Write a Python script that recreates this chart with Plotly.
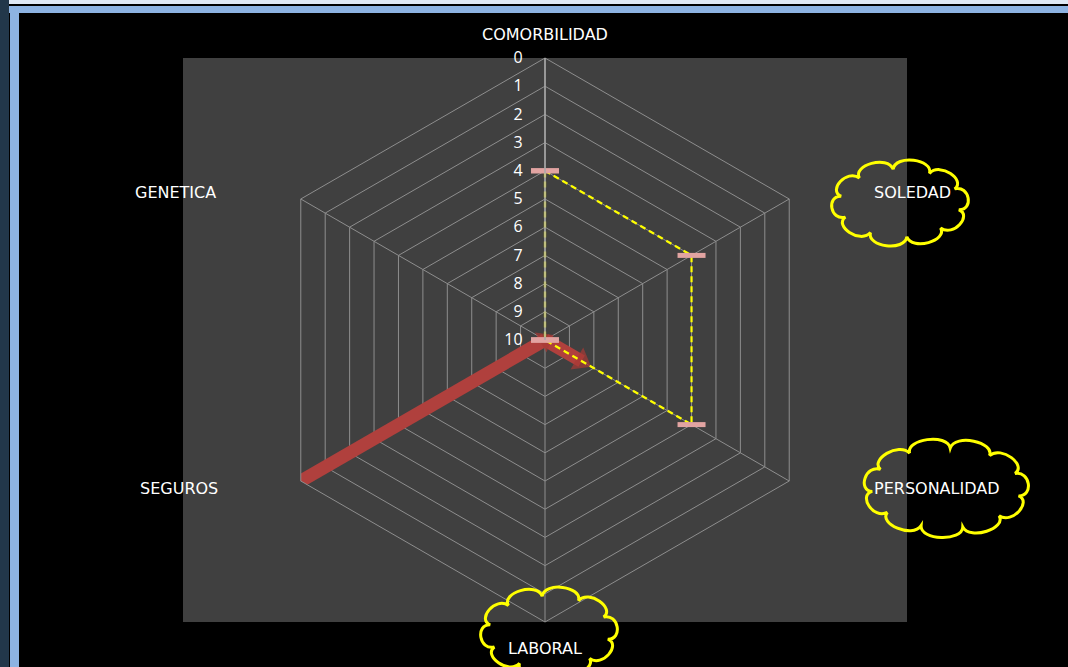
import math
import plotly.graph_objects as go

# Radar categories, clockwise from the top
categories = ["COMORBILIDAD", "SOLEDAD", "PERSONALIDAD", "LABORAL", "SEGUROS", "GENETICA"]

# Series values (radial axis runs 10 at the centre to 0 at the rim)
serie_amarilla = [4, 4, 4, 10, 10, 10]
serie_roja = [10, 10, 8.5, None, -1.7, 10]

radial_ticks = list(range(0, 11))

W, H = 1068, 667


def px(x):
    return x / W


def py(y):
    return 1 - y / H


def cloud_path(cx, cy, rx, ry, n, h, phase=0.0):
    """Scalloped ellipse outline in paper coordinates (pixel inputs)."""
    parts = []
    for i in range(n):
        a0 = phase + 2 * math.pi * i / n
        a1 = phase + 2 * math.pi * (i + 1) / n
        d = (a1 - a0) * 0.08
        p0 = (cx + rx * math.cos(a0), cy + ry * math.sin(a0))
        p1 = (cx + rx * math.cos(a1), cy + ry * math.sin(a1))
        c1 = (cx + (rx + h) * math.cos(a0 + d), cy + (ry + h) * math.sin(a0 + d))
        c2 = (cx + (rx + h) * math.cos(a1 - d), cy + (ry + h) * math.sin(a1 - d))
        if i == 0:
            parts.append(f"M {px(p0[0]):.5f},{py(p0[1]):.5f}")
        parts.append(
            f"C {px(c1[0]):.5f},{py(c1[1]):.5f} {px(c2[0]):.5f},{py(c2[1]):.5f} "
            f"{px(p1[0]):.5f},{py(p1[1]):.5f}"
        )
    parts.append("Z")
    return " ".join(parts)


fig = go.Figure()

# Red series: thick line with arrow heads at the segment ends
fig.add_trace(go.Scatterpolar(
    r=serie_roja,
    theta=categories,
    mode="lines+markers",
    connectgaps=False,
    line=dict(color="#b0403d", width=13),
    marker=dict(symbol="triangle-up", angleref="up",
                angle=[0, 0, 120, 0, 0, 60],
                size=[0, 0, 22, 0, 0, 20], color="#a83935",
                line=dict(width=0)),
    showlegend=False,
    hoverinfo="skip",
))

# Yellow series: dashed closed outline
fig.add_trace(go.Scatterpolar(
    r=serie_amarilla + serie_amarilla[:1],
    theta=categories + categories[:1],
    mode="lines+markers",
    line=dict(color="#ffff00", width=2.2, dash="6px,4px"),
    marker=dict(symbol="line-ew", size=20, color="#e2a4a2",
                line=dict(color="#e2a4a2", width=5)),
    showlegend=False,
    hoverinfo="skip",
))

grid = "#8e8e8e"
fig.update_layout(
    width=W,
    height=H,
    margin=dict(l=0, r=0, t=0, b=0),
    paper_bgcolor="#000000",
    plot_bgcolor="#000000",
    font=dict(family="Open Sans, sans-serif", color="#ffffff"),
    polar=dict(
        domain=dict(x=[px(545 - 282), px(545 + 282)], y=[py(622), py(58)]),
        bgcolor="#404040",
        gridshape="linear",
        radialaxis=dict(
            range=[10, 0],
            tickmode="array",
            tickvals=radial_ticks,
            ticktext=[str(v) for v in radial_ticks],
            angle=90,
            tickangle=90,
            side="counterclockwise",
            showline=True,
            linecolor="#a8a8a8",
            linewidth=1.5,
            gridcolor=grid,
            gridwidth=1,
            ticks="outside",
            ticklen=16,
            tickcolor="rgba(0,0,0,0)",
            tickfont=dict(size=16, color="#ffffff"),
        ),
        angularaxis=dict(
            direction="clockwise",
            rotation=90,
            showticklabels=False,
            ticks="",
            gridcolor=grid,
            showline=True,
            linecolor=grid,
            linewidth=1,
        ),
    ),
)

# Category labels around the radar
label_pos = [
    (545, 35, "center"),
    (872, 193, "left"),
    (872, 488, "left"),
    (545, 648, "center"),
    (220, 488, "right"),
    (218, 193, "right"),
]
for name, (x, y, anchor) in zip(categories, label_pos):
    fig.add_annotation(
        x=px(x), y=py(y), xref="paper", yref="paper",
        text=name, showarrow=False, xanchor=anchor, yanchor="middle",
        font=dict(size=16, color="#ffffff", family="DejaVu Sans, sans-serif"),
    )

shapes = [
    # dark plot area
    dict(type="rect", xref="paper", yref="paper", layer="below",
         x0=px(183), x1=px(907), y0=py(622), y1=py(58),
         fillcolor="#404040", line=dict(width=0)),
    # window frame
    dict(type="rect", xref="paper", yref="paper", layer="above",
         x0=0, x1=px(9), y0=0, y1=1, fillcolor="#22374a", line=dict(width=0)),
    dict(type="rect", xref="paper", yref="paper", layer="above",
         x0=px(9), x1=1, y0=py(4), y1=1, fillcolor="#dfe8f4", line=dict(width=0)),
    dict(type="rect", xref="paper", yref="paper", layer="above",
         x0=px(9), x1=1, y0=py(13), y1=py(6), fillcolor="#8db3e2", line=dict(width=0)),
    dict(type="rect", xref="paper", yref="paper", layer="above",
         x0=px(10), x1=px(19), y0=0, y1=py(6), fillcolor="#8db3e2", line=dict(width=0)),
]

# yellow callout clouds around three labels
for cx, cy, rx, ry, n in [(900, 203, 60, 34, 10), (946, 488, 74, 40, 11), (549, 632, 60, 36, 10)]:
    shapes.append(dict(type="path", xref="paper", yref="paper", layer="above",
                       path=cloud_path(cx, cy, rx, ry, n, 15, phase=0.2),
                       line=dict(color="#ffff00", width=3)))

fig.update_layout(shapes=shapes)

fig.write_html("out.html")
